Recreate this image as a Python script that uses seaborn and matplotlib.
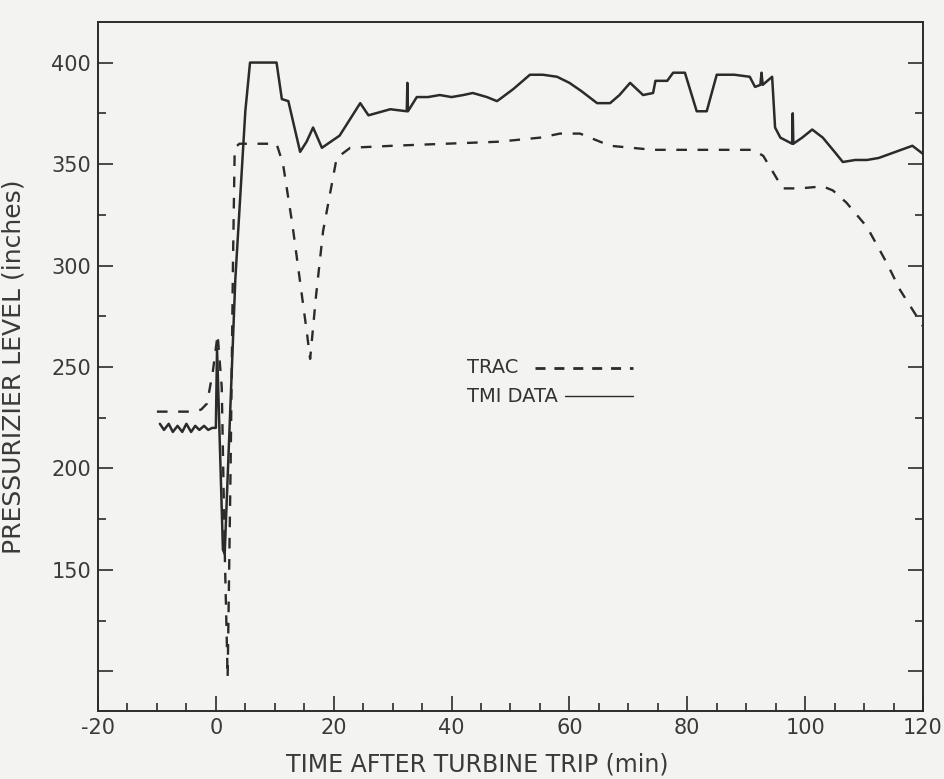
import matplotlib
matplotlib.use("Agg")
import matplotlib.pyplot as plt
from matplotlib.ticker import MultipleLocator, FixedLocator
import pandas as pd
import seaborn as sns

# TMI plant record of pressurizer level (time in min, level in inches)
tmi_time = [-9.5, -8.8, -8.0, -7.3, -6.5, -5.7, -5.0, -4.2, -3.5, -2.8, -2.0, -1.3, -0.6, 0.0,
            0.2, 1.2, 1.5, 3.3, 5.0, 5.8, 10.3, 11.2, 12.3, 14.3, 15.4, 16.5, 18.0, 21.0,
            24.5, 25.9, 29.6, 32.4, 32.5, 32.6, 34.1, 36.0, 38.0, 40.0, 42.0, 43.6, 46.0,
            47.7, 48.2, 50.5, 53.3, 55.5, 57.9, 60.0, 62.0, 64.7, 66.9, 68.5, 70.3, 72.5,
            74.2, 74.6, 76.6, 77.6, 79.6, 81.6, 83.3, 85.0, 88.0, 90.6, 91.5, 92.4, 92.6,
            92.8, 94.4, 94.9, 95.8, 97.8, 97.9, 98.0, 99.5, 101.2, 103.0, 105.0, 106.4,
            108.5, 110.5, 112.5, 114.4, 116.3, 118.2, 120.0]
tmi_level = [222, 219, 222, 218, 221, 218, 222, 218, 221, 219, 221, 219, 220, 220,
             259, 160, 158, 293, 376, 400, 400, 382, 381, 356, 361, 368, 358, 364,
             380, 374, 377, 376, 390, 376, 383, 383, 384, 383, 384, 385, 383,
             381, 382, 387, 394, 394, 393, 390, 386, 380, 380, 384, 390, 384,
             385, 391, 391, 395, 395, 376, 376, 394, 394, 393, 388, 389, 395,
             389, 393, 368, 363, 360, 375, 360, 363, 367, 363, 356, 351,
             352, 352, 353, 355, 357, 359, 355]

# TRAC calculation
trac_time = [-10.0, -4.0, -2.5, -1.5, -0.5, 0.3, 1.0, 1.5, 2.0, 2.5, 2.9, 3.2, 4.0, 10.3,
             11.4, 13.0, 15.4, 16.0, 17.0, 18.2, 20.5, 22.8, 30.0, 48.0, 55.0, 58.4, 61.8,
             66.9, 74.2, 91.2, 92.9, 96.2, 99.1, 103.0, 104.7, 107.0, 110.5, 113.9, 116.1,
             119.8, 120.0]
trac_level = [228, 228, 229, 232, 248, 266, 240, 160, 97, 200, 300, 358, 360, 360,
              350, 320, 268, 254, 285, 317, 353, 358, 359, 361, 363, 365, 365,
              359, 357, 357, 354, 338, 338, 339, 337, 331, 319, 301, 288,
              271, 270]

x_ticks = [-20, 0, 20, 40, 60, 80, 100, 120]
y_ticks = [150, 200, 250, 300, 350, 400]
series_names = ["TRAC", "TMI DATA"]

ink = "#2b2b2b"
text_ink = "#3a3a3a"
paper = "#f3f3f1"
dash = (0, (4.5, 4.5))

sns.set_theme(style="ticks")
plt.rcParams["font.family"] = ["DejaVu Sans"]

fig = plt.figure(figsize=(9.45, 7.79), dpi=100, facecolor=paper)
ax = fig.add_axes([0.1037, 0.0873, 0.873, 0.8845], facecolor=paper)

tmi = pd.DataFrame({"time": tmi_time, "level": tmi_level})
trac = pd.DataFrame({"time": trac_time, "level": trac_level})

sns.lineplot(data=trac, x="time", y="level", ax=ax, sort=False, estimator=None,
             color=ink, linewidth=1.7, linestyle=dash)
sns.lineplot(data=tmi, x="time", y="level", ax=ax, sort=False, estimator=None,
             color=ink, linewidth=1.8)

ax.set_xlim(-20, 120)
ax.set_ylim(80.5, 420)
ax.set_xticks(x_ticks)
ax.set_xticklabels([str(v) for v in x_ticks])
ax.yaxis.set_major_locator(FixedLocator(y_ticks + [100]))
ax.set_yticklabels([str(v) for v in y_ticks] + [""])
ax.xaxis.set_minor_locator(MultipleLocator(5))
ax.yaxis.set_minor_locator(MultipleLocator(25))

ax.tick_params(axis="both", which="major", direction="in", length=11, width=1.2,
               color=ink, labelcolor=text_ink, labelsize=15, pad=5)
ax.tick_params(axis="both", which="minor", direction="in", length=6, width=1.2, color=ink)
ax.tick_params(axis="y", which="both", right=True)
ax.tick_params(axis="x", which="both", top=False)

for side in ax.spines.values():
    side.set_color(ink)
    side.set_linewidth(1.4)

ax.set_xlabel("TIME AFTER TURBINE TRIP (min)", fontsize=17, color=text_ink)
ax.xaxis.set_label_coords(0.46, -0.060)
ax.set_ylabel("PRESSURIZIER LEVEL (inches)", fontsize=18, color=text_ink)
ax.yaxis.set_label_coords(-0.088, 0.5)

# key: names written first, line samples after them
key_font = {"size": 14, "color": "#333333"}
ax.text(0.447, 0.498, series_names[0], transform=ax.transAxes, ha="left", va="center", **key_font)
ax.text(0.447, 0.457, series_names[1], transform=ax.transAxes, ha="left", va="center", **key_font)
ax.plot([0.530, 0.648], [0.498, 0.498], transform=ax.transAxes, color=ink,
        linewidth=2.0, linestyle=(0, (3.6, 3.2)))
ax.plot([0.566, 0.648], [0.457, 0.457], transform=ax.transAxes, color=ink, linewidth=1.0)

fig.savefig("out.png", dpi=100, facecolor=paper)
